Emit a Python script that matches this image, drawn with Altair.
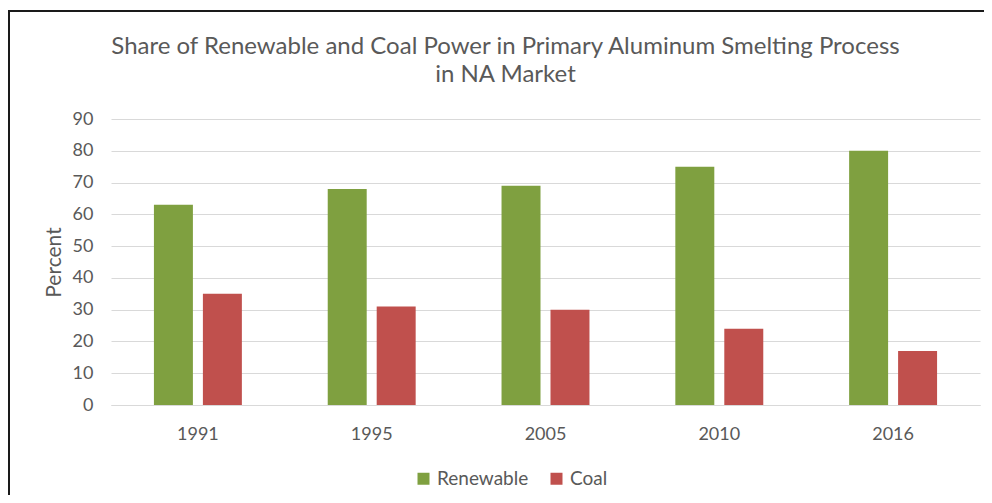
import altair as alt
import pandas as pd

years = ["1991", "1995", "2005", "2010", "2016"]
renewable = [63, 68, 69, 75, 80]
coal = [35, 31, 30, 24, 17]
series = ["Renewable", "Coal"]
colors = ["#7FA040", "#C0504D"]

rows = []
for i, y in enumerate(years):
    rows.append({"year": y, "series": "Renewable", "value": renewable[i]})
    rows.append({"year": y, "series": "Coal", "value": coal[i]})
df = pd.DataFrame(rows)

FONT = "Lato"
GRAY = "#595959"

bars = alt.Chart(df).mark_bar().encode(
    x=alt.X("year:N", sort=years, title=None,
            scale=alt.Scale(paddingInner=0.494, paddingOuter=0.247),
            axis=alt.Axis(labelAngle=0, labelFontSize=18, labelColor=GRAY, labelFont=FONT,
                          ticks=False, domainColor="#D9D9D9", domainWidth=1, labelPadding=20)),
    xOffset=alt.XOffset("series:N", sort=series, scale=alt.Scale(paddingInner=0.204)),
    y=alt.Y("value:Q", title="Percent",
            scale=alt.Scale(domain=[0, 90]),
            axis=alt.Axis(values=list(range(0, 91, 10)), labelFontSize=18, labelColor=GRAY,
                          labelFont=FONT, ticks=False, domain=False, gridColor="#D9D9D9",
                          labelPadding=18, titleFont=FONT, titleFontSize=21, titleColor=GRAY,
                          titleFontWeight="normal", titlePadding=8)),
    color=alt.Color("series:N", sort=series,
                    scale=alt.Scale(domain=series, range=colors),
                    legend=alt.Legend(title=None, orient="none", direction="horizontal",
                                      legendX=303, legendY=350, symbolType="square",
                                      symbolSize=144, symbolStrokeWidth=0, labelFont=FONT,
                                      labelFontSize=19, labelColor=GRAY, labelOffset=4,
                                      columnPadding=18)),
)

frame_df = pd.DataFrame({"a": [0]})
left_rule = alt.Chart(frame_df).mark_rule(color="#1a1a1a", strokeWidth=2).encode(
    x=alt.value(-102), y=alt.value(-108), y2=alt.value(376))
top_rule = alt.Chart(frame_df).mark_rule(color="#1a1a1a", strokeWidth=2).encode(
    x=alt.value(-103), x2=alt.value(873), y=alt.value(-108))

chart = alt.layer(bars, left_rule, top_rule).properties(
    width=869, height=286,
    background="white",
    title=alt.TitleParams(
        text=["Share of Renewable and Coal Power in Primary Aluminum Smelting Process",
              "in NA Market"],
        font=FONT, fontSize=24, fontWeight="normal", color=GRAY, anchor="middle",
        frame="group", dx=-40, offset=-77, lineHeight=28),
    autosize=alt.AutoSizeParams(type="none"),
    padding={"left": 103, "top": 111, "right": 4, "bottom": 90},
).configure_view(stroke=None)

chart.save("out.html", embed_options={"renderer": "svg", "actions": False})
